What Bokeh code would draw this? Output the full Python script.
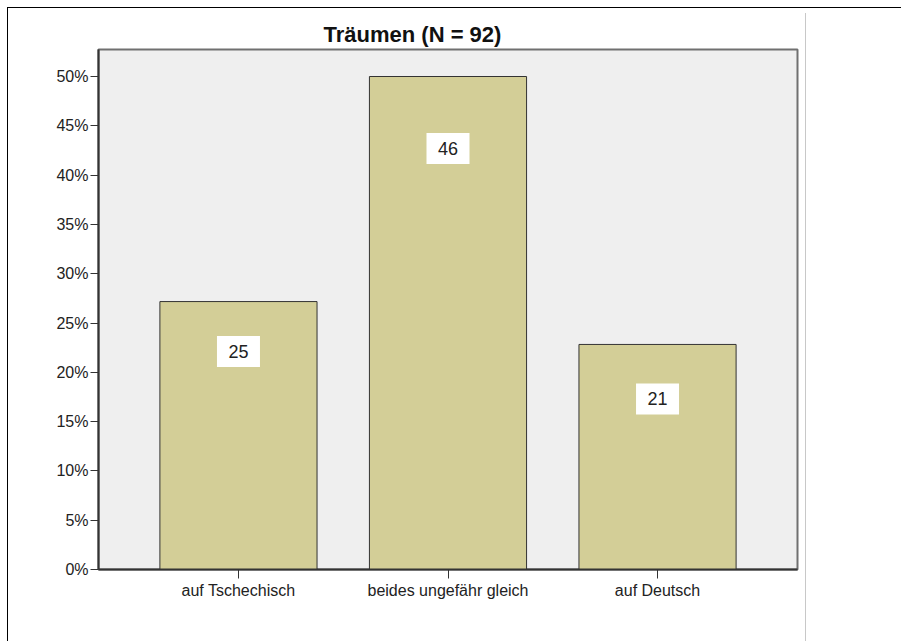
from bokeh.plotting import figure
from bokeh.models import FactorRange, FixedTicker, Div, ColumnDataSource, Title
from bokeh.layouts import row
from bokeh.core.properties import value
from bokeh.embed import file_html
from bokeh.resources import INLINE

# ---- data ----
categories = ["auf Tschechisch", "beides ungefähr gleich", "auf Deutsch"]
counts = [25, 46, 21]
total_n = 92
percents = [c / total_n * 100 for c in counts]
y_ticks = [0, 5, 10, 15, 20, 25, 30, 35, 40, 45, 50]
y_tick_labels = {t: f"{t}%" for t in y_ticks}
# vertical centre of the count boxes (in % units)
label_y = [22.1, 42.7, 17.3]
title_text = f"Träumen (N = {total_n})"

FONT = "Liberation Sans"

src = ColumnDataSource(dict(cat=categories, pct=percents,
                            lab=[str(c) for c in counts], ly=label_y))

p = figure(x_range=FactorRange(*categories, range_padding=0.112),
           y_range=(0, 52.74),
           width=792, height=632,
           min_border_left=90, min_border_right=3,
           min_border_top=41, min_border_bottom=71,
           output_backend="svg", toolbar_location=None,
           background_fill_color="#efefef", border_fill_color="white")

p.title = Title(text=title_text, align="left", offset=225, standoff=6,
                text_font=FONT, text_font_size="22px", text_font_style="bold",
                text_color="#111111")

p.vbar(x="cat", top="pct", width=0.75, source=src,
       fill_color="#d3ce97", line_color="#333333", line_width=1)

p.rect(x="cat", y="ly", width=43, height=31, width_units="screen",
       height_units="screen", source=src, fill_color="white", line_color=None)
p.text(x="cat", y="ly", text="lab", source=src, text_align="center",
       text_baseline="middle", text_font=value(FONT), text_font_size="18px",
       text_color="#222222")

p.xgrid.visible = False
p.ygrid.visible = False
p.outline_line_color = "#707070"
p.outline_line_width = 2

p.yaxis.ticker = FixedTicker(ticks=y_ticks)
p.yaxis.major_label_overrides = y_tick_labels
p.yaxis.minor_tick_line_color = None
p.yaxis.major_tick_out = 8
p.yaxis.major_tick_in = 0
p.yaxis.major_label_standoff = 2

p.xaxis.major_tick_out = 9
p.xaxis.major_tick_in = 0
p.xaxis.major_label_standoff = 3

for ax in (p.xaxis, p.yaxis):
    ax.axis_line_color = "#333333"
    ax.axis_line_width = 2
    ax.major_tick_line_color = "#333333"
    ax.major_tick_line_width = 1
    ax.major_label_text_font = FONT
    ax.major_label_text_font_size = "16px"
    ax.major_label_text_color = "#222222"

side = Div(text="", width=93, height=632,
           styles={"border-left": "1px solid #c8c8c8"})

layout = row(p, side, styles={"border-top": "1px solid #000000",
                              "border-left": "1px solid #000000",
                              "margin-left": "7px", "margin-top": "7px"})

open("out.html", "w").write(file_html(layout, INLINE))
